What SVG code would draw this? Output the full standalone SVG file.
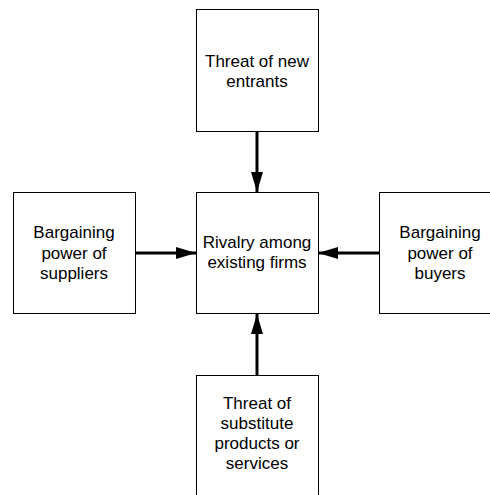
<svg xmlns="http://www.w3.org/2000/svg" width="490" height="495" viewBox="0 0 490 495">
<defs>
<style>
.box{fill:#fff;stroke:#000;stroke-width:1}
.lbl{font-family:"Liberation Sans",Arial,sans-serif;font-size:17px;fill:#000;text-anchor:middle}
.conn{stroke:#000;stroke-width:3;fill:none}
</style>
<marker id="ah" viewBox="0 0 20 12" refX="20" refY="6" markerWidth="20" markerHeight="12" markerUnits="userSpaceOnUse" orient="auto">
<path d="M0,0 L20,6 L0,12 Z" fill="#000"/>
</marker>
</defs>
<rect width="490" height="495" fill="#fff"/>
<g id="connectors">
<line class="conn" x1="257" y1="132" x2="257" y2="192" marker-end="url(#ah)"/>
<line class="conn" x1="135" y1="253" x2="196" y2="253" marker-end="url(#ah)"/>
<line class="conn" x1="379" y1="253" x2="318" y2="253" marker-end="url(#ah)"/>
<line class="conn" x1="257" y1="375" x2="257" y2="314" marker-end="url(#ah)"/>
</g>
<g id="new-entrants">
<rect class="box" x="196.5" y="9.5" width="122" height="122"/>
<text class="lbl" x="257" y="67">Threat of new</text>
<text class="lbl" x="257" y="87">entrants</text>
</g>
<g id="suppliers">
<rect class="box" x="13.5" y="192.5" width="122" height="121"/>
<text class="lbl" x="74" y="238">Bargaining</text>
<text class="lbl" x="74" y="259">power of</text>
<text class="lbl" x="74" y="279">suppliers</text>
</g>
<g id="rivalry">
<rect class="box" x="196.5" y="192.5" width="122" height="121"/>
<text class="lbl" x="257" y="248">Rivalry among</text>
<text class="lbl" x="257" y="268">existing firms</text>
</g>
<g id="buyers">
<rect class="box" x="379.5" y="192.5" width="122" height="121"/>
<text class="lbl" x="440" y="238">Bargaining</text>
<text class="lbl" x="440" y="259">power of</text>
<text class="lbl" x="440" y="279">buyers</text>
</g>
<g id="substitutes">
<rect class="box" x="196.5" y="375.5" width="122" height="121"/>
<text class="lbl" x="257" y="409">Threat of</text>
<text class="lbl" x="257" y="429">substitute</text>
<text class="lbl" x="257" y="449">products or</text>
<text class="lbl" x="257" y="469">services</text>
</g>
</svg>
